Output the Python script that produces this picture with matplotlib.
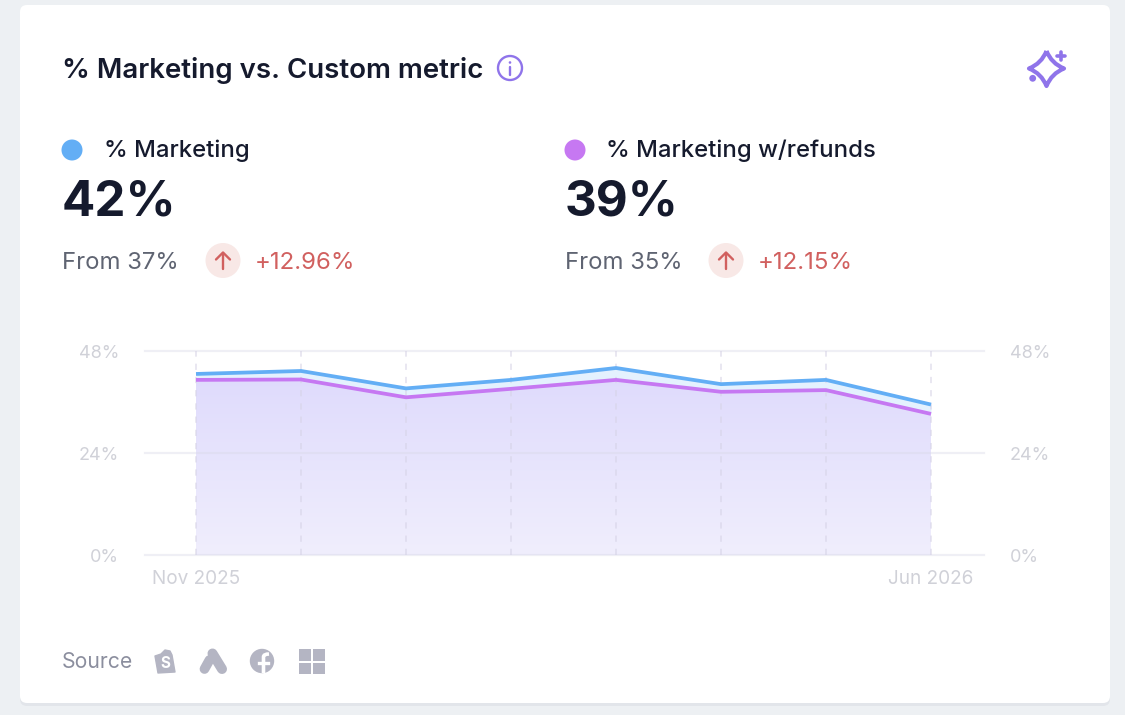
import matplotlib
matplotlib.use('Agg')
import matplotlib.pyplot as plt
import numpy as np
from matplotlib.patches import FancyBboxPatch, Circle, Rectangle, PathPatch, Polygon
from matplotlib.path import Path
from matplotlib.colors import LinearSegmentedColormap

plt.rcParams['font.family'] = ['Inter', 'DejaVu Sans']

months = ['Nov 2025', '', '', '', '', '', '', 'Jun 2026']
marketing = [42.6, 43.3, 39.2, 41.2, 44.0, 40.2, 41.2, 35.4]
marketing_refunds = [41.2, 41.3, 37.1, 39.1, 41.2, 38.4, 38.8, 33.2]
y_ticks = [0, 24, 48]
y_labels = ['0%', '24%', '48%']

DARK = '#151a2d'
GREY = '#5f6472'
RED = '#d1605f'
RED_BG = '#f8e8e6'
BLUE = '#63aef5'
PURPLE = '#c678f2'
ICON = '#b4b5c3'
VIOLET = '#8f74ea'
TICK = '#d0d1d8'

fig = plt.figure(figsize=(11.25, 7.15), dpi=100, facecolor='#edf0f3')

# page layer in pixel coordinates
bg = fig.add_axes([0, 0, 1, 1])
bg.set_xlim(0, 1125)
bg.set_ylim(715, 0)
bg.axis('off')

bg.add_patch(FancyBboxPatch((23, 11), 1084, 692, boxstyle='round,pad=3,rounding_size=7',
                            fc='#e2e5ea', ec='none'))
bg.add_patch(FancyBboxPatch((23, 8), 1084, 692, boxstyle='round,pad=3,rounding_size=7',
                            fc='white', ec='none'))

bg.text(62, 78, '% Marketing vs. Custom metric', fontsize=19.9, fontweight=600, color=DARK, va='baseline')

# info icon
bg.add_patch(Circle((510, 68), 12, fc='none', ec=VIOLET, lw=1.7))
bg.add_patch(Circle((510, 62.5), 1.3, fc=VIOLET, ec='none'))
bg.plot([510, 510], [66.5, 74.5], color=VIOLET, lw=1.7, solid_capstyle='round')

# sparkle icon
cx, cy, r, c = 1046.5, 68.5, 17.5, 5
sparkle = Path([(cx, cy - r), (cx + c, cy - c), (cx + r, cy), (cx + c, cy + c), (cx, cy + r),
                (cx - c, cy + c), (cx - r, cy), (cx - c, cy - c), (cx, cy - r)],
               [Path.MOVETO, Path.CURVE3, Path.CURVE3, Path.CURVE3, Path.CURVE3,
                Path.CURVE3, Path.CURVE3, Path.CURVE3, Path.CURVE3])
bg.add_patch(PathPatch(sparkle, fc='none', ec=VIOLET, lw=3, joinstyle='round'))
bg.plot([1060.7, 1060.7], [52, 59.5], color=VIOLET, lw=2.6, solid_capstyle='round')
bg.plot([1057, 1064.5], [55.7, 55.7], color=VIOLET, lw=2.6, solid_capstyle='round')
bg.add_patch(Circle((1032.7, 78.3), 3.4, fc=VIOLET, ec='none'))


def kpi(x, color, name, value, source, change):
    bg.add_patch(Circle((x + 9, 150), 10.5, fc=color, ec='none'))
    bg.text(x + 40.5, 157, name, fontsize=17.2, fontweight=500, color=DARK, va='baseline')
    bg.text(x - 1, 216, value, fontsize=35.5, fontweight=700, color=DARK, va='baseline')
    bg.text(x - 1, 269, source, fontsize=17.2, color=GREY, va='baseline')
    bg.add_patch(Circle((x + 160, 260.5), 17.5, fc=RED_BG, ec='none'))
    bg.plot([x + 160, x + 160], [253, 269], color=RED, lw=1.7, solid_capstyle='round')
    bg.plot([x + 153, x + 160, x + 167], [259.5, 252.5, 259.5], color=RED, lw=1.7,
            solid_capstyle='round', solid_joinstyle='round')
    bg.text(x + 192, 269, change, fontsize=17.3, color=RED, va='baseline')


kpi(63, BLUE, '% Marketing', '42%', 'From 37%', '+12.96%')
kpi(566, PURPLE, '% Marketing w/refunds', '39%', 'From 35%', '+12.15%')

# footer
bg.text(62, 668, 'Source', fontsize=15.2, color='#8b8e9e', va='baseline')
bg.add_patch(Polygon([(155, 656), (161, 654), (165, 650), (170, 651), (172, 655), (175, 672), (158, 673)],
                     closed=True, fc=ICON, ec=ICON, lw=1, joinstyle='round'))
bg.text(165, 664, 'S', fontsize=11, fontweight=700, color='white', ha='center', va='center')
bg.plot([212.5, 222], [653.5, 669], color=ICON, lw=7.2, solid_capstyle='round')
bg.plot([209.5, 204.5], [660, 669], color=ICON, lw=7, solid_capstyle='round')
bg.add_patch(Circle((262, 661), 12.2, fc=ICON, ec='none'))
fb = Path([(263.5, 673), (263.5, 657), (263.5, 654), (269, 654)],
          [Path.MOVETO, Path.LINETO, Path.CURVE3, Path.CURVE3])
bg.add_patch(PathPatch(fb, fc='none', ec='white', lw=2.6))
bg.plot([259, 268], [663, 663], color='white', lw=2.4)
for sx, sy in [(299, 649), (312.5, 649), (299, 662.5), (312.5, 662.5)]:
    bg.add_patch(Rectangle((sx, sy), 12, 11.5, fc=ICON, ec='none'))

# chart, pixel box 145..984 x 351..555
ax = fig.add_axes([145 / 1125, 1 - 555 / 715, (984 - 145) / 1125, (555 - 351) / 715])
ax.patch.set_alpha(0)
x = np.arange(len(marketing))

ax.set_yticks(y_ticks)
ax.set_yticklabels(y_labels)
ax.set_xticks(x)
ax.set_xticklabels(months)
ax.tick_params(axis='both', length=0, labelcolor=TICK)
ax.tick_params(axis='y', pad=18.5, labelsize=13)
ax.tick_params(axis='x', pad=11, labelsize=13.7)
for side in ax.spines:
    ax.spines[side].set_visible(False)

ax.fill_between(x, marketing_refunds, marketing, color='#e4f1fe', lw=0, zorder=1)
cmap = LinearSegmentedColormap.from_list('fade', ['#dfdbfc', '#f0eefd'])
poly = ax.fill_between(x, 0, marketing_refunds, color='none', lw=0, zorder=1)
im = ax.imshow(np.linspace(0, 1, 256).reshape(-1, 1), cmap=cmap, extent=[0, 7, 0, 42],
               aspect='auto', origin='upper', zorder=1)
im.set_clip_path(poly.get_paths()[0], transform=ax.transData)
ax.set_xlim(-51 / 105, 7 + 53 / 105)
ax.set_ylim(0, 48)

for tick in y_ticks:
    ax.axhline(tick, color='#d8d8e6', alpha=0.4, lw=1.6, zorder=2, clip_on=False)
for pos in x:
    ax.plot([pos, pos], [0, 48], color='#d6d3e6', alpha=0.55, lw=1.4, dashes=(3.2, 3.6), zorder=2)

ax.plot(x, marketing, color=BLUE, lw=2.7, zorder=3, solid_capstyle='butt', solid_joinstyle='round')
ax.plot(x, marketing_refunds, color=PURPLE, lw=2.7, zorder=3, solid_capstyle='butt', solid_joinstyle='round')

right = ax.twinx()
right.set_ylim(0, 48)
right.set_yticks(y_ticks)
right.set_yticklabels(y_labels)
right.tick_params(axis='y', length=0, labelcolor=TICK, labelsize=13, pad=18.5)
for side in right.spines:
    right.spines[side].set_visible(False)

fig.savefig('out.png', dpi=100, facecolor=fig.get_facecolor())
